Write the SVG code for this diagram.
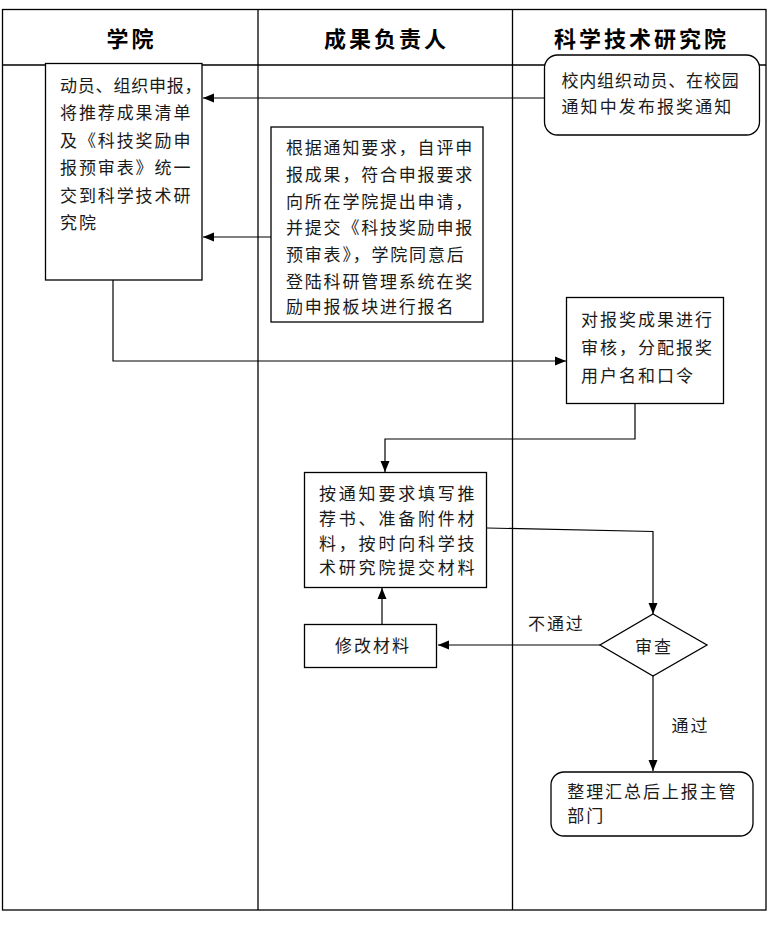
<svg xmlns="http://www.w3.org/2000/svg" width="769" height="925" viewBox="0 0 769 925">
<style>
text{font-family:"Noto Sans CJK SC","Noto Sans CJK JP",sans-serif;fill:#1a1a1a;}
.t{font-size:17px;letter-spacing:1.9px;}
.h{font-size:22px;font-weight:bold;letter-spacing:3px;fill:#000;text-anchor:middle;}
.frame{fill:none;stroke:#000;stroke-width:1.3;}
.box{fill:#fff;stroke:#000;stroke-width:1.3;}
.conn{fill:none;stroke:#000;stroke-width:1.2;}
</style>
<defs>
<marker id="arr" markerUnits="userSpaceOnUse" markerWidth="12" markerHeight="10" viewBox="0 0 12 10" refX="11" refY="5" orient="auto">
<path d="M0,0.5 L11,5 L0,9.5 Z" fill="#000"/>
</marker>
</defs>
<g id="lanes">
<rect class="frame" x="2.5" y="9.5" width="763.5" height="900.5"/>
<line class="frame" x1="2.5" y1="65" x2="766" y2="65"/>
<line class="frame" x1="258" y1="9.5" x2="258" y2="910"/>
<line class="frame" x1="512.5" y1="9.5" x2="512.5" y2="910"/>
<text class="h" x="131.5" y="46.7">学院</text>
<text class="h" x="386.5" y="46.7">成果负责人</text>
<text class="h" x="641.5" y="46.7">科学技术研究院</text>
</g>
<g id="connectors">
<path class="conn" d="M544,98 L203,98" marker-end="url(#arr)"/>
<path class="conn" d="M271,237 L203,237" marker-end="url(#arr)"/>
<path class="conn" d="M113,280 L113,361 L566,361" marker-end="url(#arr)"/>
<path class="conn" d="M635,403 L635,439 L385,439 L385,472" marker-end="url(#arr)"/>
<path class="conn" d="M487,528 L653,531.5 L653,614" marker-end="url(#arr)"/>
<path class="conn" d="M600,645 L438,645" marker-end="url(#arr)"/>
<path class="conn" d="M382,624 L382,588" marker-end="url(#arr)"/>
<path class="conn" d="M653,676 L653,771" marker-end="url(#arr)"/>
<text class="t" x="528" y="629.5">不通过</text>
<text class="t" x="671.5" y="731.5">通过</text>
</g>
<g id="node-notice">
<rect class="box" x="544.5" y="55" width="215" height="80" rx="13"/>
<text class="t" x="561.5" y="86.5" style="letter-spacing:0.8px">校内组织动员、在校园</text>
<text class="t" x="561.5" y="113.2" style="letter-spacing:2.1px">通知中发布报奖通知</text>
</g>
<g id="node-college">
<rect class="box" x="45.5" y="63.5" width="156.5" height="216.5"/>
<text class="t" x="60" y="91.5" style="letter-spacing:0.8px">动员、组织申报，</text>
<text class="t" x="60" y="119">将推荐成果清单</text>
<text class="t" x="60" y="146.5">及《科技奖励申</text>
<text class="t" x="60" y="174">报预审表》统一</text>
<text class="t" x="60" y="201.5">交到科学技术研</text>
<text class="t" x="60" y="229">究院</text>
</g>
<g id="node-apply">
<rect class="box" x="271" y="127" width="212" height="195"/>
<text class="t" x="286" y="154.2" style="letter-spacing:1.8px">根据通知要求，自评申</text>
<text class="t" x="286" y="180.8" style="letter-spacing:1.8px">报成果，符合申报要求</text>
<text class="t" x="286" y="207.5" style="letter-spacing:1.8px">向所在学院提出申请，</text>
<text class="t" x="286" y="234.2" style="letter-spacing:1.8px">并提交《科技奖励申报</text>
<text class="t" x="286" y="260.8" style="letter-spacing:1.8px">预审表》，学院同意后</text>
<text class="t" x="286" y="287.5" style="letter-spacing:1.8px">登陆科研管理系统在奖</text>
<text class="t" x="286" y="313.2" style="letter-spacing:1.8px">励申报板块进行报名</text>
</g>
<g id="node-review">
<rect class="box" x="566.5" y="297.5" width="157" height="106"/>
<text class="t" x="581" y="325.8" style="letter-spacing:2px">对报奖成果进行</text>
<text class="t" x="581" y="354.2" style="letter-spacing:2px">审核，分配报奖</text>
<text class="t" x="581" y="382.2" style="letter-spacing:2px">用户名和口令</text>
</g>
<g id="node-fill">
<rect class="box" x="304.5" y="472.5" width="182" height="115"/>
<text class="t" x="319" y="499.8" style="letter-spacing:2.8px">按通知要求填写推</text>
<text class="t" x="319" y="524.8" style="letter-spacing:2.8px">荐书、准备附件材</text>
<text class="t" x="319" y="549.8" style="letter-spacing:2.8px">料，按时向科学技</text>
<text class="t" x="319" y="574.2" style="letter-spacing:2.8px">术研究院提交材料</text>
</g>
<g id="node-modify">
<rect class="box" x="304.5" y="624.5" width="132" height="43"/>
<text class="t" x="335" y="651.5" style="letter-spacing:2px">修改材料</text>
</g>
<g id="node-check">
<polygon class="box" points="653,614 707,645 653,676 600,645"/>
<text class="t" x="635" y="653" style="letter-spacing:2px">审查</text>
</g>
<g id="node-submit">
<rect class="box" x="551" y="772" width="202" height="64" rx="13"/>
<text class="t" x="567.3" y="798.2">整理汇总后上报主管</text>
<text class="t" x="567.3" y="821.5">部门</text>
</g>
</svg>
